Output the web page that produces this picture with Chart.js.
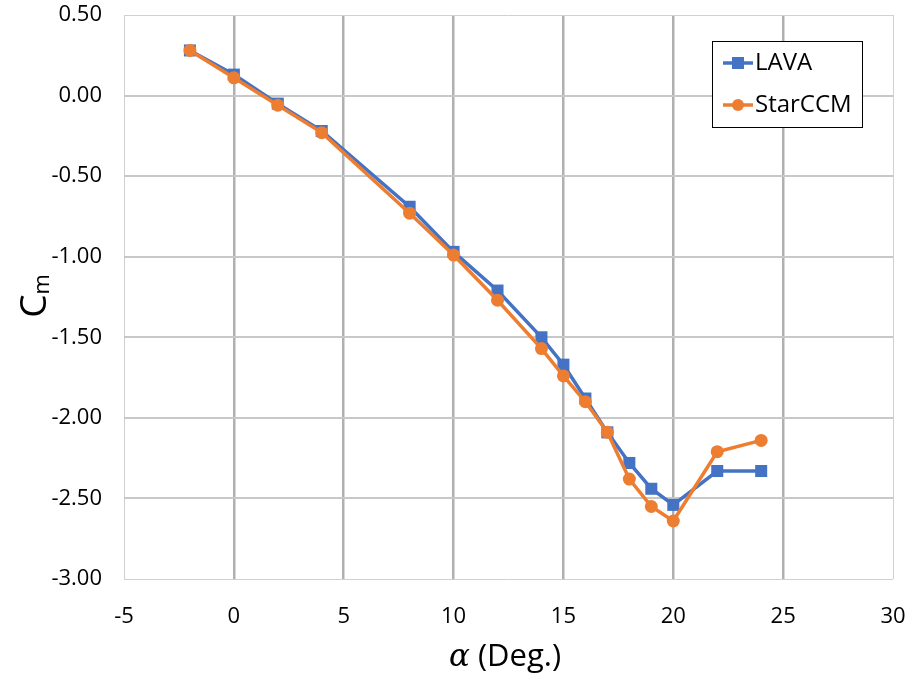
<!DOCTYPE html>
<html>
<head>
<meta charset="utf-8">
<script src="https://cdn.jsdelivr.net/npm/chart.js@4/dist/chart.umd.min.js"></script>
<style>
  html, body { margin: 0; padding: 0; background: #ffffff; }
  #wrap { width: 916px; height: 676px; }
</style>
</head>
<body>
<div id="wrap"><canvas id="cm" width="916" height="676"></canvas></div>
<script>
// Angle of attack (deg) and pitching-moment coefficient from both solvers
const alpha   = [-2, 0, 2, 4, 8, 10, 12, 14, 15, 16, 17, 18, 19, 20, 22, 24];
const lava    = [0.28, 0.13, -0.05, -0.22, -0.69, -0.97, -1.21, -1.50, -1.67, -1.88, -2.09, -2.28, -2.44, -2.54, -2.33, -2.33];
const starccm = [0.28, 0.11, -0.06, -0.23, -0.73, -0.99, -1.27, -1.57, -1.74, -1.90, -2.09, -2.38, -2.55, -2.64, -2.21, -2.14];

const xTicks = [-5, 0, 5, 10, 15, 20, 25, 30];
const yTicks = [0.5, 0, -0.5, -1, -1.5, -2, -2.5, -3];

const BLUE = '#4472C4';
const ORANGE = '#ED7D31';
const FONT = '"Open Sans", "Liberation Sans", sans-serif';

const pts = ys => alpha.map((a, i) => ({ x: a, y: ys[i] }));

// Axis titles: C with subscript m (rotated) and the alpha label below
const axisTitles = {
  id: 'axisTitles',
  afterDraw(chart) {
    const ctx = chart.ctx;
    ctx.save();
    ctx.fillStyle = '#000';
    // y title
    ctx.translate(46, 296);
    ctx.rotate(-Math.PI / 2);
    ctx.textBaseline = 'alphabetic';
    ctx.font = '37px ' + FONT;
    const wC = ctx.measureText('C').width;
    ctx.font = '22px ' + FONT;
    const wm = ctx.measureText('m').width;
    const x0 = -(wC + wm) / 2;
    ctx.font = '37px ' + FONT;
    ctx.textAlign = 'left';
    ctx.fillText('C', x0, 0);
    ctx.font = '22px ' + FONT;
    ctx.fillText('m', x0 + wC, 3);
    ctx.restore();

    // x title
    ctx.save();
    ctx.fillStyle = '#000';
    ctx.textBaseline = 'alphabetic';
    ctx.textAlign = 'left';
    ctx.font = 'italic 31px "DejaVu Serif", serif';
    const wa = ctx.measureText('\u03B1').width;
    ctx.font = '31px ' + FONT;
    const rest = ' (Deg.)';
    const wr = ctx.measureText(rest).width;
    const xs = 505 - (wa + wr) / 2;
    ctx.font = 'italic 31px "DejaVu Serif", serif';
    ctx.fillText('\u03B1', xs, 666);
    ctx.font = '31px ' + FONT;
    ctx.fillText(rest, xs + wa, 666);
    ctx.restore();
  }
};

// Boxed legend inside the plot area, top right
const boxLegend = {
  id: 'boxLegend',
  afterDraw(chart) {
    const ctx = chart.ctx;
    ctx.save();
    ctx.fillStyle = '#ffffff';
    ctx.fillRect(712, 41, 151, 86);
    ctx.strokeStyle = '#000000';
    ctx.lineWidth = 1;
    ctx.strokeRect(712.5, 41.5, 150, 86);
    chart.data.datasets.forEach((ds, i) => {
      const y = 63 + i * 42;
      ctx.strokeStyle = ds.borderColor;
      ctx.lineWidth = 3.5;
      ctx.beginPath();
      ctx.moveTo(723, y);
      ctx.lineTo(753, y);
      ctx.stroke();
      ctx.fillStyle = ds.backgroundColor;
      if (ds.pointStyle === 'rect') {
        ctx.fillRect(732, y - 6, 12, 12);
      } else {
        ctx.beginPath();
        ctx.arc(738, y, 6, 0, Math.PI * 2);
        ctx.fill();
      }
      ctx.fillStyle = '#000';
      ctx.font = '24px ' + FONT;
      ctx.textBaseline = 'middle';
      ctx.textAlign = 'left';
      ctx.fillText(ds.label, 755, y);
    });
    ctx.restore();
  }
};

new Chart(document.getElementById('cm'), {
  type: 'scatter',
  data: {
    datasets: [
      {
        label: 'LAVA',
        data: pts(lava),
        showLine: true,
        borderColor: BLUE,
        backgroundColor: BLUE,
        borderWidth: 3.5,
        pointStyle: 'rect',
        pointRadius: 8.5,
        pointBorderWidth: 0,
        order: 2
      },
      {
        label: 'StarCCM',
        data: pts(starccm),
        showLine: true,
        borderColor: ORANGE,
        backgroundColor: ORANGE,
        borderWidth: 3.5,
        pointStyle: 'circle',
        pointRadius: 6.5,
        pointBorderWidth: 0,
        order: 1
      }
    ]
  },
  options: {
    responsive: false,
    animation: false,
    devicePixelRatio: 1,
    layout: { padding: { left: 0, top: 15, right: 23, bottom: 0 } },
    plugins: {
      legend: { display: false },
      tooltip: { enabled: false }
    },
    scales: {
      x: {
        type: 'linear',
        min: -5,
        max: 30,
        afterFit(scale) {
          scale.height = 97;
          scale.paddingLeft = 0;
          scale.paddingRight = 0;
        },
        afterBuildTicks(scale) { scale.ticks = xTicks.map(v => ({ value: v })); },
        border: { display: false },
        grid: {
          drawTicks: false,
          color: c => (c.tick && (c.tick.value === -5 || c.tick.value === 30)) ? '#d0d0d0' : '#b0b0b0',
          lineWidth: c => (c.tick && (c.tick.value === -5 || c.tick.value === 30)) ? 1 : 2.5
        },
        ticks: {
          padding: 25,
          color: '#000',
          font: { family: FONT, size: 22 },
          callback: v => String(v)
        }
      },
      y: {
        type: 'linear',
        min: -3,
        max: 0.5,
        afterFit(scale) {
          scale.width = 124;
          scale.paddingTop = 0;
          scale.paddingBottom = 0;
        },
        afterBuildTicks(scale) { scale.ticks = yTicks.map(v => ({ value: v })); },
        border: { display: false },
        grid: {
          drawTicks: false,
          color: c => (c.tick && (c.tick.value === 0.5 || c.tick.value === -3)) ? '#d0d0d0' : '#c8c8c8',
          lineWidth: c => (c.tick && (c.tick.value === 0.5 || c.tick.value === -3)) ? 1 : 2
        },
        ticks: {
          padding: 22,
          color: '#000',
          font: { family: FONT, size: 22 },
          callback: v => Number(v).toFixed(2)
        }
      }
    }
  },
  plugins: [axisTitles, boxLegend]
});
</script>
</body>
</html>
